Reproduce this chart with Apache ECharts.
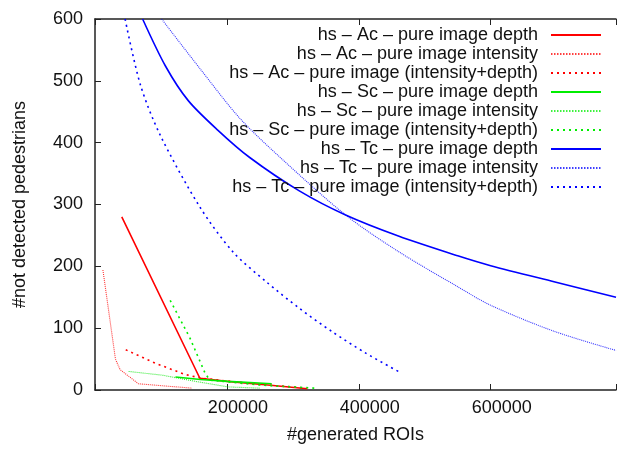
<!DOCTYPE html>
<html>
<head>
<meta charset="utf-8">
<script src="https://cdn.jsdelivr.net/npm/echarts@6.0.0/dist/echarts.min.js"></script>
<style>
  html, body { margin: 0; padding: 0; background: #fff; }
  #chart { width: 619px; height: 449px; }
</style>
</head>
<body>
<div id="chart"></div>
<script>
// [ROIs, not detected pedestrians]
const acDepth = [[40600, 280], [159000, 19], [200000, 14], [262000, 8], [322000, 2]];
const acIntensity = [[12000, 194], [31000, 50], [38000, 33], [66000, 10], [147000, 3]];
const acBoth = [[46600, 65], [92000, 43], [137000, 25], [162000, 19], [240000, 10], [320000, 3]];
const scDepth = [[122000, 21], [160000, 17], [202000, 14], [268000, 10]];
const scIntensity = [[51000, 30], [102000, 24], [152000, 14], [202000, 5], [250000, 3]];
const scBoth = [[114000, 145], [144000, 84], [167000, 27], [174000, 16], [250000, 8], [333000, 3]];
const tcDepth = [[72200, 600], [106800, 524], [141400, 468], [186500, 420], [234600, 376],
  [309800, 322], [380000, 283], [460000, 249], [550000, 217], [600000, 201], [696000, 175], [790000, 150]];
const tcIntensity = [[101000, 600], [159000, 520], [220000, 439], [284000, 373],
  [380000, 283], [460000, 224], [550000, 167], [600000, 137], [696000, 95], [790000, 64]];
const tcBoth = [[45600, 600], [69000, 493], [99000, 412], [159000, 296],
  [209500, 223], [259700, 175], [310000, 132], [360000, 94], [410000, 60], [460000, 30]];

const xTickLabels = [200000, 400000, 600000];
const yTickLabels = [0, 100, 200, 300, 400, 500, 600];

const COLORS = {
  red: ['#ff0000', 'rgba(255,0,0,0.8)'],
  green: ['#00ee00', 'rgba(0,230,0,0.8)'],
  blue: ['#0000ff', 'rgba(0,0,255,0.8)']
};
const FONT = 'Liberation Sans';

function mk(name, data, hue, kind) {
  const c = COLORS[hue];
  let lineStyle;
  if (kind === 'depth') lineStyle = { color: c[0], width: 1.6, type: 'solid' };
  else if (kind === 'int') lineStyle = { color: c[1], width: 1.1, type: [1, 1] };
  else lineStyle = { color: c[0], width: 1.6, type: [2, 4] };
  return {
    name: name,
    type: 'line',
    data: data,
    symbol: 'none',
    smooth: hue === 'blue' ? 0.3 : false,
    lineStyle: lineStyle,
    itemStyle: { color: c[0] },
    animation: false
  };
}

const series = [
  mk('hs – Ac – pure image depth', acDepth, 'red', 'depth'),
  mk('hs – Ac – pure image intensity', acIntensity, 'red', 'int'),
  mk('hs – Ac – pure image (intensity+depth)', acBoth, 'red', 'both'),
  mk('hs – Sc – pure image depth', scDepth, 'green', 'depth'),
  mk('hs – Sc – pure image intensity', scIntensity, 'green', 'int'),
  mk('hs – Sc – pure image (intensity+depth)', scBoth, 'green', 'both'),
  mk('hs – Tc – pure image depth', tcDepth, 'blue', 'depth'),
  mk('hs – Tc – pure image intensity', tcIntensity, 'blue', 'int'),
  mk('hs – Tc – pure image (intensity+depth)', tcBoth, 'blue', 'both')
];

// legend samples: thin dotted ones get an explicit colour
const legendData = series.map(s => {
  if (Array.isArray(s.lineStyle.type) && s.lineStyle.type[0] === 1) {
    return { name: s.name, lineStyle: { color: s.itemStyle.color, width: 1.5, type: [1.5, 1.5] } };
  }
  return { name: s.name };
});

const chart = echarts.init(document.getElementById('chart'));

const axisLine = { lineStyle: { color: '#222', width: 1.5 } };

chart.setOption({
  animation: false,
  textStyle: { fontFamily: FONT },
  grid: { left: 95, right: 0, top: 19, bottom: 57 },
  legend: {
    orient: 'vertical',
    align: 'right',
    right: 12,
    top: 21,
    itemWidth: 50,
    itemHeight: 14,
    itemGap: 1,
    selectedMode: false,
    itemStyle: { opacity: 0 },
    textStyle: { fontFamily: FONT, fontSize: 18, color: '#111', lineHeight: 18, padding: [0, 8, 0, 0] },
    data: legendData
  },
  xAxis: [{
    type: 'value',
    min: 0,
    max: 790000,
    interval: 200000,
    name: '#generated ROIs',
    nameLocation: 'middle',
    nameGap: 36,
    nameTextStyle: { fontFamily: FONT, fontSize: 18, color: '#111' },
    axisLine: axisLine,
    axisTick: { inside: true, length: 6, lineStyle: { color: '#222' } },
    axisLabel: {
      fontFamily: FONT, fontSize: 18, color: '#111', margin: 9,
      padding: [0, 0, 0, 22],
      formatter: v => xTickLabels.includes(v) ? String(v) : ''
    },
    splitLine: { show: false }
  }, {
    type: 'value',
    position: 'top',
    min: 0,
    max: 790000,
    interval: 200000,
    axisLine: axisLine,
    axisTick: { inside: true, length: 6, lineStyle: { color: '#222' } },
    axisLabel: { show: false },
    splitLine: { show: false }
  }],
  yAxis: {
    type: 'value',
    min: 0,
    max: 600,
    interval: 100,
    name: '#not detected pedestrians',
    nameLocation: 'middle',
    nameGap: 66,
    nameTextStyle: { fontFamily: FONT, fontSize: 18, color: '#111' },
    axisLine: { show: true, lineStyle: { color: '#222', width: 1.5 } },
    axisTick: { show: true, inside: true, length: 6, lineStyle: { color: '#222' } },
    axisLabel: {
      fontFamily: FONT, fontSize: 18, color: '#111', margin: 12,
      formatter: v => yTickLabels.includes(v) ? String(v) : ''
    },
    splitLine: { show: false }
  },
  series: series
});
</script>
</body>
</html>
